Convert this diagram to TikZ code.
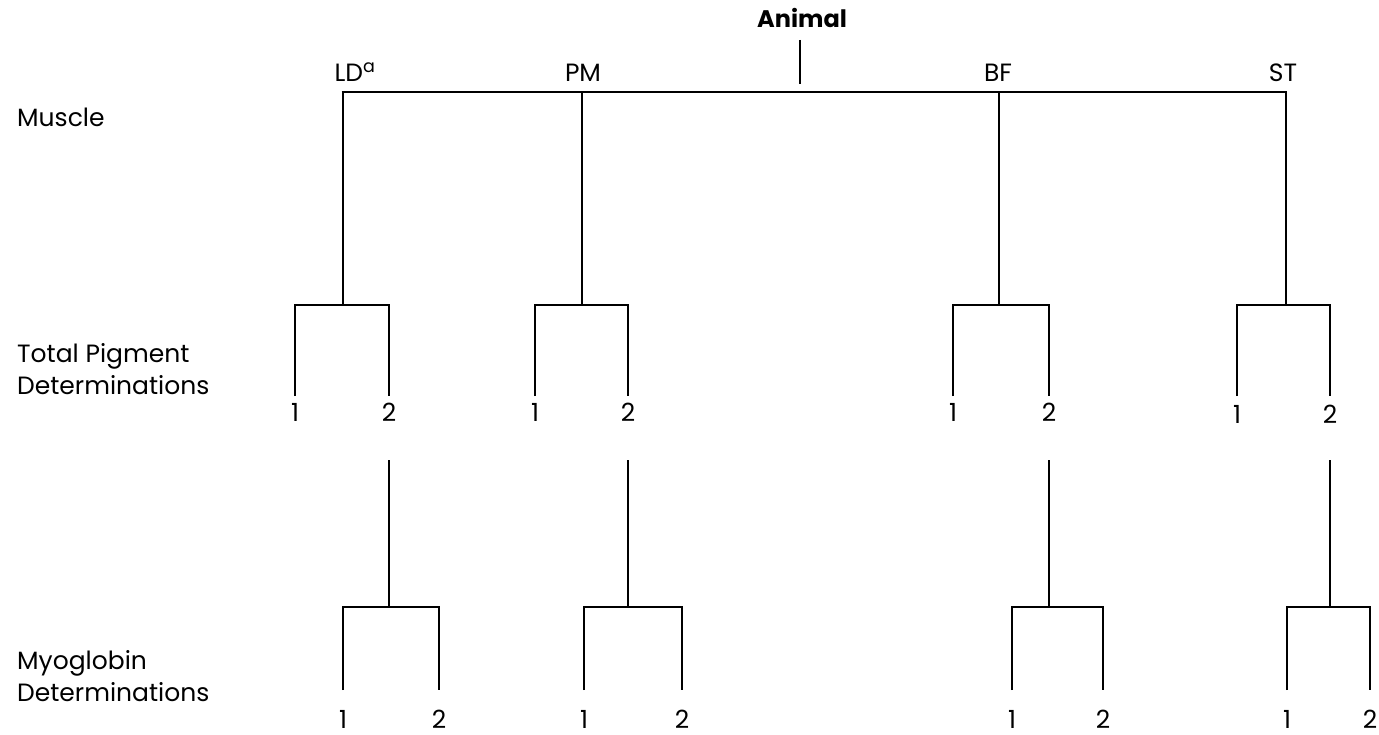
\documentclass[tikz,border=0pt]{standalone}
\usepackage{fontspec}
\setmainfont{Poppins}
\begin{document}
\begin{tikzpicture}[x=1pt,y=-1pt,
  lbl/.style={inner sep=0pt,anchor=base,font=\fontsize{25}{30}\selectfont},
  side/.style={inner sep=0pt,anchor=base west,align=left,font=\fontsize{25}{32}\selectfont},
  ln/.style={line width=2.6pt,line cap=butt,line join=miter}]
\useasboundingbox (0,0) rectangle (1379,735);
% top
\node[lbl,font=\bfseries\fontsize{24}{28}\selectfont] (animal) at (802,28) {Animal};
\coordinate (atop) at (800,40);
\coordinate (abot) at (800,84);
\draw[ln] (atop) -- (abot);
\node[side] (muscle) at (17,127) {Muscle};
\node[side] (tpd) at (17,394) {Total Pigment\\Determinations};
\node[side] (myo) at (17,701) {Myoglobin\\Determinations};
% muscle labels
\node[lbl] (mLD) at (355,82) {LD\textsuperscript{a}};
\node[lbl] (mPM) at (583,82) {PM};
\node[lbl] (mBF) at (998,82) {BF};
\node[lbl] (mST) at (1283,82) {ST};
\coordinate (hLD) at (343,92);
\coordinate (hPM) at (582,92);
\coordinate (hBF) at (999,92);
\coordinate (hST) at (1286,92);
\draw[ln] ([xshift=-1.3pt]hLD) -- ([xshift=1.3pt]hST);
\foreach \n/\mx/\ta/\tb/\ba/\bb/\ly/\lyy in
  {LD/343/295/389/343/439/421/728,
   PM/582/535/628/584/682/421/728,
   BF/999/953/1049/1012/1103/421/728,
   ST/1286/1237/1330/1287/1370/423/728}{
  \coordinate (t\n) at (\mx,305);
  \draw[ln] (h\n) -- (t\n);
  \coordinate (tl\n) at (\ta,305);
  \coordinate (tr\n) at (\tb,305);
  \coordinate (tle\n) at (\ta,396);
  \coordinate (tre\n) at (\tb,396);
  \draw[ln] (tle\n) -- (tl\n) -- (tr\n) -- (tre\n);
  \node[lbl] (one\n) at (\ta,\ly) {1};
  \node[lbl] (two\n) at (\tb,\ly) {2};
  \coordinate (vs\n) at (\tb,460);
  \coordinate (ve\n) at (\tb,607);
  \draw[ln] (vs\n) -- (ve\n);
  \coordinate (bl\n) at (\ba,607);
  \coordinate (br\n) at (\bb,607);
  \coordinate (ble\n) at (\ba,690);
  \coordinate (bre\n) at (\bb,690);
  \draw[ln] (ble\n) -- (bl\n) -- (br\n) -- (bre\n);
  \node[lbl] (bone\n) at (\ba,\lyy) {1};
  \node[lbl] (btwo\n) at (\bb,\lyy) {2};
}
\end{tikzpicture}
\end{document}
